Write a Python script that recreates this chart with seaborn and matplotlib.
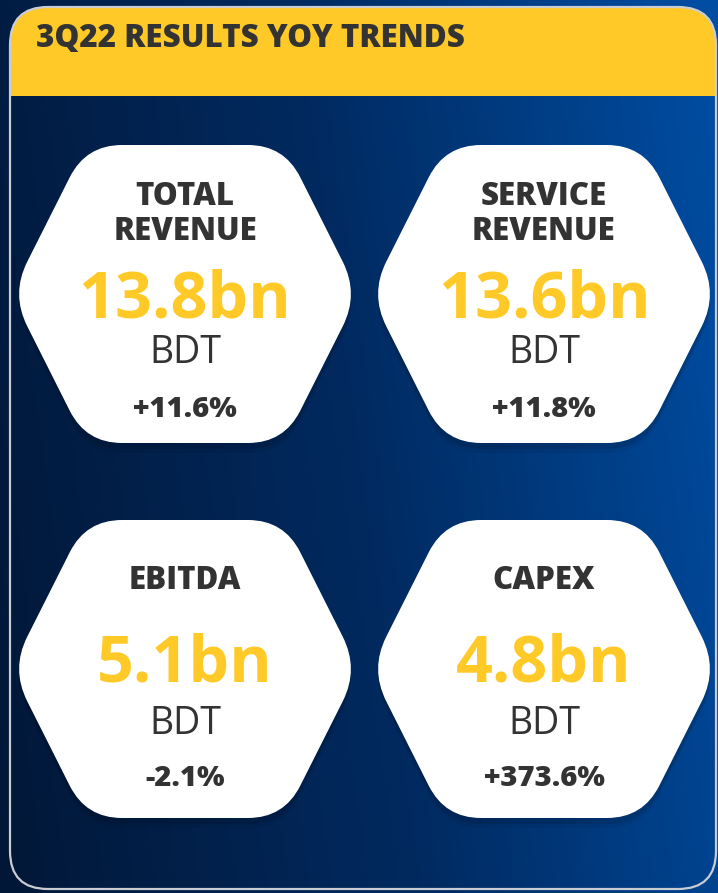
import numpy as np
import matplotlib.pyplot as plt
from matplotlib.path import Path
from matplotlib.patches import PathPatch, FancyBboxPatch, Rectangle
import seaborn as sns

# data
title = "3Q22 RESULTS YOY TRENDS"
metrics = ["TOTAL\nREVENUE", "SERVICE\nREVENUE", "EBITDA", "CAPEX"]
values_bn = [13.8, 13.6, 5.1, 4.8]
yoy_pct = [11.6, 11.8, -2.1, 373.6]
unit = "BDT"

sns.set_theme(style="white")
plt.rcParams['font.family'] = ['Open Sans', 'DejaVu Sans']

W, H = 718, 893
DARK = "#333333"
YELLOW = "#ffca28"

fig = plt.figure(figsize=(W / 100, H / 100), dpi=100)
ax = fig.add_axes([0, 0, 1, 1])
ax.set_xlim(0, W)
ax.set_ylim(H, 0)
ax.axis('off')

# navy -> blue background
bg_cmap = sns.blend_palette(["#021737", "#012a60", "#004ea4"], as_cmap=True)
gx, gy = np.meshgrid(np.linspace(0, 1, 300), np.linspace(0, 1, 300))
ax.imshow(0.85 * gx + 0.15 * (1 - gy), cmap=bg_cmap, extent=(0, W, H, 0),
          aspect='auto', zorder=0, interpolation='bilinear')

# card outline + yellow header band
card = FancyBboxPatch((10, 7), 706, 882, boxstyle="round,pad=0,rounding_size=38",
                      fc='none', ec='#c9ccd3', lw=1.6, zorder=5)
ax.add_patch(card)
band = Rectangle((0, 0), W, 96, fc=YELLOW, ec='none', zorder=1)
ax.add_patch(band)
band.set_clip_path(card)
ax.text(36, 47, title, fontsize=22.6, fontweight='heavy', color=DARK,
        ha='left', va='baseline', zorder=6)


def rounded_hex(cx, cy, w=174, a=99, h=149, r=36):
    pts = np.array([[cx - a, cy - h], [cx + a, cy - h], [cx + w, cy],
                    [cx + a, cy + h], [cx - a, cy + h], [cx - w, cy]], float)
    verts, codes = [], []
    n = len(pts)
    for i in range(n):
        p, v, q = pts[i - 1], pts[i], pts[(i + 1) % n]
        A = v + r * (p - v) / np.linalg.norm(p - v)
        B = v + r * (q - v) / np.linalg.norm(q - v)
        verts += [A, v, B]
        codes += [Path.LINETO if i else Path.MOVETO, Path.CURVE3, Path.CURVE3]
    verts.append(verts[0])
    codes.append(Path.CLOSEPOLY)
    return Path(verts, codes)


col_x = [185, 544]
row_y = [294, 669]
# baseline offsets from hex centre: label (last line), value, unit, change
row_offsets = [(-54, 24, 69, 123), (-80, 13, 65, 117)]

for i, (label, val, chg) in enumerate(zip(metrics, values_bn, yoy_pct)):
    r, c = divmod(i, 2)
    cx, cy = col_x[c], row_y[r]
    # soft shadow
    for dy, al in [(10, 0.06), (6, 0.10)]:
        ax.add_patch(PathPatch(rounded_hex(cx, cy + dy), fc='black', ec='none',
                               alpha=al, zorder=2))
    ax.add_patch(PathPatch(rounded_hex(cx, cy), fc='white', ec='none', zorder=3))

    o_lab, o_val, o_unit, o_chg = row_offsets[r]
    lines = label.split("\n")
    for j, line in enumerate(lines):
        ax.text(cx, cy + o_lab - 35 * (len(lines) - 1 - j), line, fontsize=22.5,
                fontweight='heavy', color=DARK, ha='center', va='baseline', zorder=4)
    ax.text(cx, cy + o_val, f"{val:.1f}bn", fontsize=46.5, fontweight='bold',
            color=YELLOW, ha='center', va='baseline', zorder=4)
    ax.text(cx, cy + o_unit, unit, fontsize=27, color=DARK,
            ha='center', va='baseline', zorder=4)
    ax.text(cx, cy + o_chg, f"{chg:+.1f}%", fontsize=21, fontweight='heavy',
            color=DARK, ha='center', va='baseline', zorder=4)

fig.savefig("out.png", dpi=100)
